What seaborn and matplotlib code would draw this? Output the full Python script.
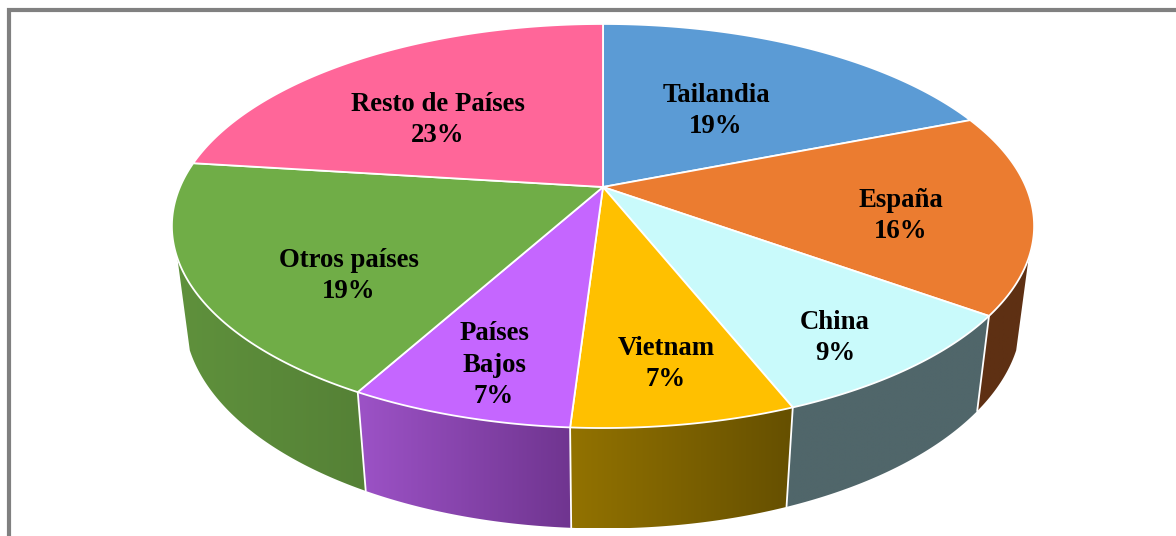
import numpy as np
import matplotlib
matplotlib.use("Agg")
import matplotlib.pyplot as plt
from matplotlib.patches import Polygon
import seaborn as sns

# -------------------------------
# Data
# -------------------------------
countries = ["Tailandia", "España", "China", "Vietnam", "Países\nBajos", "Otros países", "Resto de Países"]
shares = [19, 16, 9, 7, 7, 19, 23]

top_colors = ["#5B9BD5", "#EB7C30", "#C9FAFB", "#FFC000", "#C566FF", "#70AD47", "#FF6699"]
wall_left = ["#37608A", "#5E3013", "#50666A", "#927200", "#9C52C6", "#5F913C", "#99405C"]
wall_right = ["#37608A", "#5E3013", "#50666A", "#665000", "#703590", "#558136", "#99405C"]

label_x = [716, 901, 835, 666, 494, 349, 438]
label_y = [111, 216, 338, 364, 365, 276, 120]

sns.set_theme(style="white")
plt.rcParams["font.family"] = ["Liberation Serif", "DejaVu Serif"]

# -------------------------------
# Perspective of the disc
# -------------------------------
CX, CY = 603, 187


def project(theta, depth=0.0):
    # theta in degrees, clockwise from 12 o'clock; depth 0 = top face, 1 = bottom
    t = np.radians(theta)
    xx, yy = np.sin(t), np.cos(t)
    w = 1 + 0.193 * yy + 0.028 * depth
    return CX + 423 * xx / w, CY - (194.5 * yy - 90.6 * depth) / w


fig = plt.figure(figsize=(11.76, 5.36), dpi=100)
ax = fig.add_axes([0, 0, 1, 1])
ax.axis("off")

# grey frame, open on the right and bottom
ax.plot([9, 9, 1176], [536, 10, 10], color="#808080", lw=3, solid_joinstyle="miter")

edges = np.cumsum([0] + shares) * 3.6
FRONT_FROM, FRONT_TO = 110, 250

# -------------------------------
# Side walls
# -------------------------------
for i in range(len(shares)):
    start = max(edges[i], FRONT_FROM)
    end = min(edges[i + 1], FRONT_TO)
    if end <= start:
        continue
    arc = np.linspace(start, end, 80)
    tx, ty = project(arc)
    bx, by = project(arc[::-1], 1)
    px, py = np.r_[tx, bx], np.r_[ty, by]

    shades = np.array(sns.blend_palette([wall_left[i], wall_right[i]], 64))[None, :, :3]
    outline = Polygon(np.c_[px, py], closed=True, facecolor="none", edgecolor="none", transform=ax.transData)
    ax.add_patch(outline)
    img = ax.imshow(shades, extent=(px.min(), px.max(), py.max(), py.min()), aspect="auto",
                    interpolation="bilinear", zorder=2)
    img.set_clip_path(outline)

for angle in edges:
    if FRONT_FROM < angle < FRONT_TO:
        tx, ty = project(angle)
        bx, by = project(angle, 1)
        ax.plot([tx, bx], [ty, by], color="white", lw=1.3, zorder=3)

# -------------------------------
# Top face
# -------------------------------
for i in range(len(shares)):
    arc = np.linspace(edges[i], edges[i + 1], 120)
    ax_, ay_ = project(arc)
    ax.fill(np.r_[CX, ax_], np.r_[CY, ay_], facecolor=top_colors[i], edgecolor="white", lw=1.3,
            joinstyle="round", zorder=4)

# -------------------------------
# Labels
# -------------------------------
for name, share, x, y in zip(countries, shares, label_x, label_y):
    ax.text(x, y, f"{name}\n{share}%", ha="center", va="center", fontsize=19.3, fontweight="bold",
            color="black", linespacing=1.35, zorder=5)

ax.set_xlim(0, 1176)
ax.set_ylim(536, 0)

plt.savefig("out.png", dpi=100)
plt.close()
